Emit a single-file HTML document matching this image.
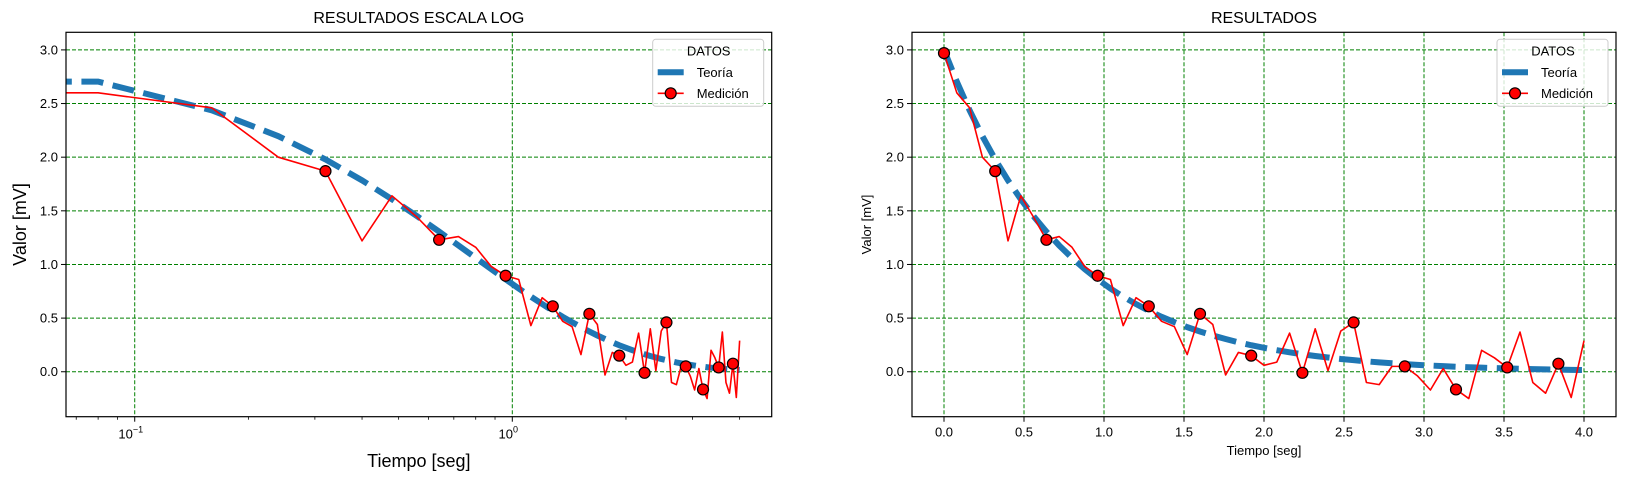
<!DOCTYPE html>
<html><head><meta charset="utf-8"><style>
body{margin:0;background:#fff}
svg{display:block;font-family:"Liberation Sans","DejaVu Sans",sans-serif}
</style></head><body>
<svg id="fig" width="1626" height="480" viewBox="0 0 1626 480" xmlns="http://www.w3.org/2000/svg"></svg>
<script>
const times = [0.00,0.08,0.16,0.24,0.32,0.40,0.48,0.56,0.64,0.72,0.80,0.88,0.96,1.04,1.12,1.20,1.28,1.36,1.44,1.52,1.60,1.68,1.76,1.84,1.92,2.00,2.08,2.16,2.24,2.32,2.40,2.48,2.56,2.64,2.72,2.80,2.88,2.96,3.04,3.12,3.20,3.28,3.36,3.44,3.52,3.60,3.68,3.76,3.84,3.92,4.00];
const theory = [3.000,2.704,2.437,2.196,1.979,1.784,1.608,1.449,1.306,1.177,1.061,0.956,0.862,0.776,0.700,0.631,0.568,0.512,0.462,0.416,0.375,0.338,0.305,0.274,0.247,0.223,0.201,0.181,0.163,0.147,0.133,0.119,0.108,0.097,0.087,0.079,0.071,0.064,0.058,0.052,0.047,0.042,0.038,0.034,0.031,0.028,0.025,0.022,0.020,0.018,0.016];
const measured = [2.97,2.60,2.46,2.00,1.87,1.22,1.64,1.44,1.23,1.26,1.16,0.98,0.895,0.86,0.43,0.69,0.61,0.47,0.42,0.16,0.54,0.44,-0.03,0.18,0.15,0.06,0.09,0.36,-0.01,0.40,0.01,0.38,0.46,-0.10,-0.12,0.05,0.05,-0.04,-0.17,0.03,-0.165,-0.25,0.20,0.13,0.04,0.37,-0.10,-0.20,0.075,-0.24,0.29];
const yTicks = [0.0,0.5,1.0,1.5,2.0,2.5,3.0];
const xTicksLin = [0.0,0.5,1.0,1.5,2.0,2.5,3.0,3.5,4.0];
const xTicksLogMajor = [-1,0];
const xTicksLogMinor = [0.07,0.08,0.09,0.2,0.3,0.4,0.5,0.6,0.7,0.8,0.9,2,3,4];
const markEvery = 4;

const NS="http://www.w3.org/2000/svg";
const fig=document.getElementById('fig');
function el(tag,attrs,parent){const e=document.createElementNS(NS,tag);for(const k in attrs)e.setAttribute(k,attrs[k]);(parent||fig).appendChild(e);return e;}

const top_=32.3,bot=416.7;
const yMin=-0.419,yMax=3.164;
function yS(v){return bot-(v-yMin)/(yMax-yMin)*(bot-top_);}
const defs=el('defs',{});

function drawPanel(cfg){
  const g=el('g',{});
  
  
  const L=cfg.L,R=cfg.R,xS=cfg.xS;
  const cp=el('clipPath',{id:'clip-'+cfg.name},defs);
  el('rect',{x:L,y:top_,width:R-L,height:bot-top_},cp);
  yTicks.forEach(v=>{
    const ln=el('line',{x1:L,x2:R,y1:yS(v),y2:yS(v),stroke:'#008000','stroke-width':1,'stroke-dasharray':'4,2'},g);
    
    
  });
  cfg.xGrid.forEach(x=>{
    const ln=el('line',{x1:x,x2:x,y1:top_,y2:bot,stroke:'#008000','stroke-width':1,'stroke-dasharray':'4,2'},g);
    
    
  });
  const dg=el('g',{'clip-path':'url(#clip-'+cfg.name+')'},g);
  
  
  let d='';times.forEach((t,i)=>{d+=(i?'L':'M')+xS(t).toFixed(2)+','+yS(theory[i]).toFixed(2);});
  const th=el('path',{d:d,fill:'none',stroke:'#1f77b4','stroke-width':6,'stroke-dasharray':'22,9.6'},dg);
  
  
  d='';times.forEach((t,i)=>{d+=(i?'L':'M')+xS(t).toFixed(2)+','+yS(measured[i]).toFixed(2);});
  const ms=el('path',{d:d,fill:'none',stroke:'#ff0000','stroke-width':1.6,'stroke-linejoin':'round'},dg);
  
  
  for(let i=0;i<times.length;i+=markEvery){
    const x=xS(times[i]);
    if(x<L)continue;
    const c=el('circle',{cx:x,cy:yS(measured[i]),r:5.5,fill:'#ff0000',stroke:'#000','stroke-width':1.2},g);
    
    
  }
  const fr=el('rect',{x:L,y:top_,width:R-L,height:bot-top_,fill:'none',stroke:'#000','stroke-width':1.2},g);
  
  
  yTicks.forEach(v=>{
    const tk=el('line',{x1:L-5,x2:L,y1:yS(v),y2:yS(v),stroke:'#000','stroke-width':1},g);
    
    
    const t=el('text',{x:L-8,y:yS(v)+4.5,'text-anchor':'end','font-size':13,fill:'#000'},g);
    t.textContent=v.toFixed(1);
    
    
  });
  const ti=el('text',{x:(L+R)/2,y:23,'text-anchor':'middle','font-size':16,fill:'#000'},g);
  ti.textContent=cfg.title;
  
  
  const xl=el('text',{x:(L+R)/2,y:cfg.xlY,'text-anchor':'middle','font-size':cfg.labSize,fill:'#000'},g);
  xl.textContent='Tiempo [seg]';
  
  
  const ym=(top_+bot)/2;
  const yl=el('text',{x:cfg.ylX,y:ym,'text-anchor':'middle','font-size':cfg.labSize,fill:'#000',transform:'rotate(-90 '+cfg.ylX+' '+ym+')'},g);
  yl.textContent='Valor [mV]';
  
  
  const lx=R-119,ly=39.3;
  const lg=el('g',{},g);
  
  
  el('rect',{x:lx,y:ly,width:111,height:67,rx:3,fill:'#fff','fill-opacity':0.8,stroke:'#ccc','stroke-width':1},lg);
  const lt=el('text',{x:lx+56,y:ly+16,'text-anchor':'middle','font-size':13,fill:'#000'},lg);
  lt.textContent='DATOS';
  
  
  const le1=el('line',{x1:lx+5,x2:lx+31,y1:ly+33,y2:ly+33,stroke:'#1f77b4','stroke-width':6},lg);
  
  
  const t1=el('text',{x:lx+44,y:ly+37.5,'font-size':13,fill:'#000'},lg);
  t1.textContent='Teoría';
  
  
  const le2=el('line',{x1:lx+5,x2:lx+31,y1:ly+54,y2:ly+54,stroke:'#ff0000','stroke-width':1.6},lg);
  
  
  el('circle',{cx:lx+18,cy:ly+54,r:5.5,fill:'#ff0000',stroke:'#000','stroke-width':1.2},lg);
  const t2=el('text',{x:lx+44,y:ly+58.5,'font-size':13,fill:'#000'},lg);
  t2.textContent='Medición';
  
  
  return g;
}

const LL=66,LR=771.7,lmin=-1.182,lmax=0.687;
function xLog(t){const v=t>0?Math.log10(t):-300;return LL+(v-lmin)/(lmax-lmin)*(LR-LL);}
const gL=drawPanel({name:'log-scale-chart',L:LL,R:LR,xS:xLog,xGrid:xTicksLogMajor.map(e=>xLog(Math.pow(10,e))),title:'RESULTADOS ESCALA LOG',xlY:467,ylX:26,labSize:18});
xTicksLogMajor.forEach(e=>{
  const x=xLog(Math.pow(10,e));
  const tk=el('line',{x1:x,x2:x,y1:bot,y2:bot+5,stroke:'#000','stroke-width':1},gL);
  
  
  const t=el('text',{x:x-4,y:bot+22,'text-anchor':'middle','font-size':13,fill:'#000'},gL);
  
  
  const a=el('tspan',{},t);a.textContent='10';
  const b=el('tspan',{dy:-6,'font-size':9},t);b.textContent=(e<0?'\u2212':'')+Math.abs(e);
});
xTicksLogMinor.forEach(v=>{
  const x=xLog(v);
  const tk=el('line',{x1:x,x2:x,y1:bot,y2:bot+3,stroke:'#000','stroke-width':0.8},gL);
  
  
});

const RL=912,RR=1616,xmin=-0.2,xmax=4.2;
function xLin(t){return RL+(t-xmin)/(xmax-xmin)*(RR-RL);}
const gR=drawPanel({name:'linear-scale-chart',L:RL,R:RR,xS:xLin,xGrid:xTicksLin.map(xLin),title:'RESULTADOS',xlY:455,ylX:871,labSize:13});
xTicksLin.forEach(v=>{
  const x=xLin(v);
  const tk=el('line',{x1:x,x2:x,y1:bot,y2:bot+5,stroke:'#000','stroke-width':1},gR);
  
  
  const t=el('text',{x:x,y:bot+20,'text-anchor':'middle','font-size':13,fill:'#000'},gR);
  t.textContent=v.toFixed(1);
  
  
});
</script>
</body></html>
